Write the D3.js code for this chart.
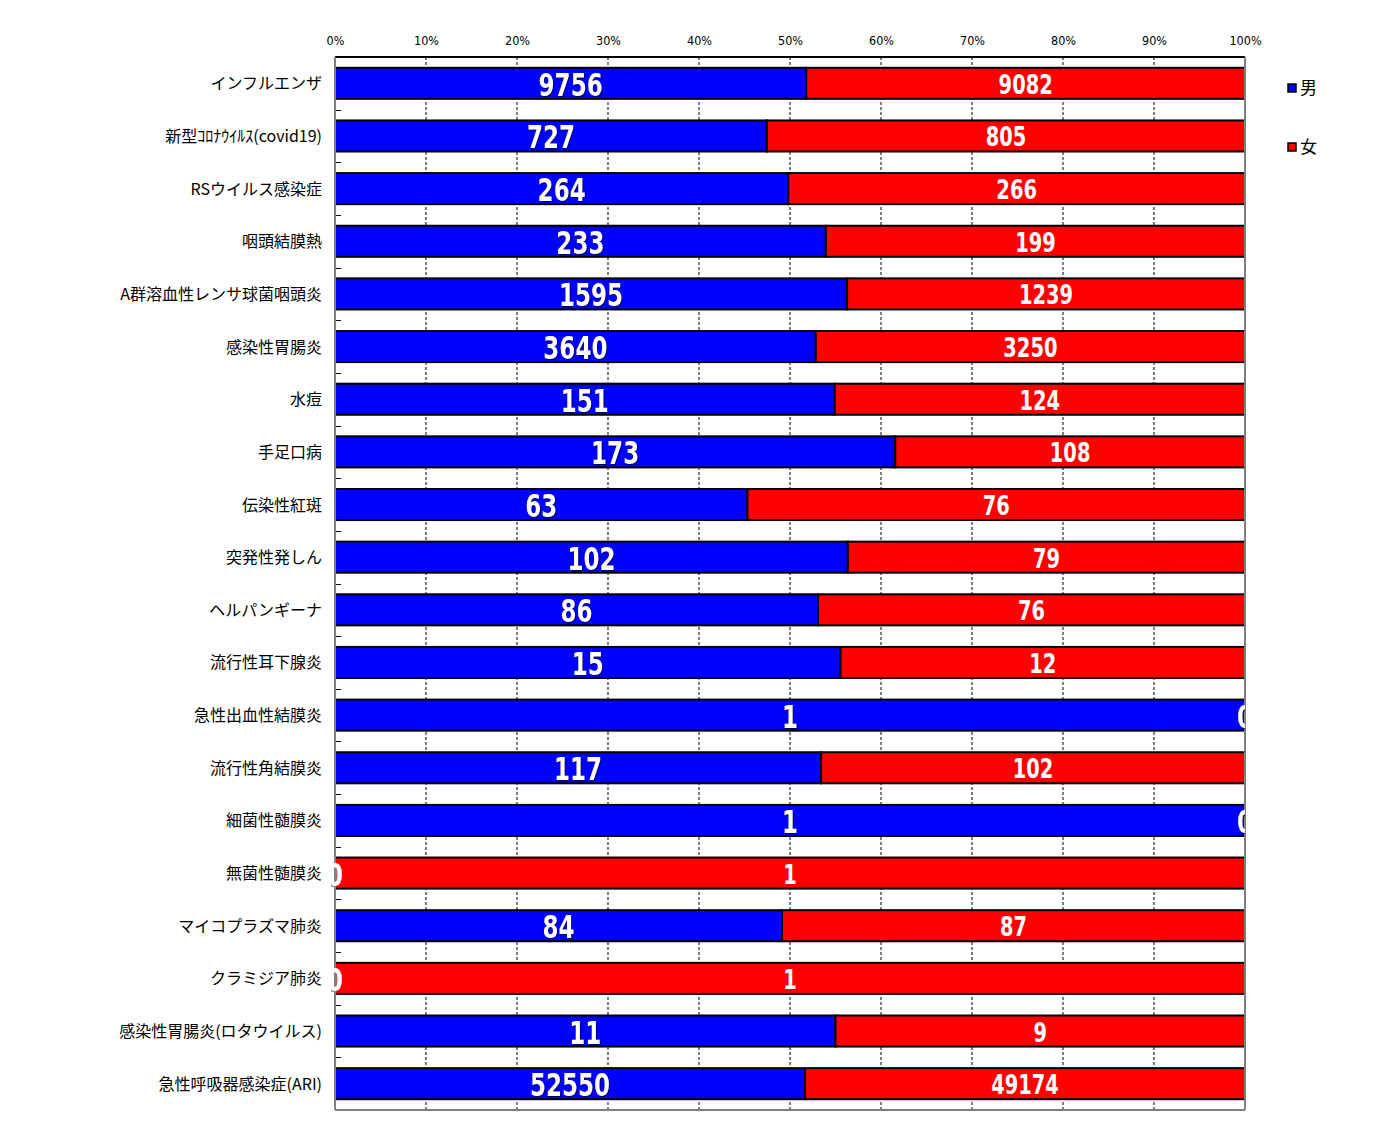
<!DOCTYPE html>
<meta charset="utf-8">
<script src="https://d3js.org/d3.v7.min.js"></script>
<style>
  body { margin: 0; background: #fff; }
  svg { display: block; }
</style>
<div id="chart"></div>
<script>
// categories and counts (男 / 女)
var categories = [
  "インフルエンザ", "新型ｺﾛﾅｳｲﾙｽ(covid19)", "RSウイルス感染症", "咽頭結膜熱",
  "A群溶血性レンサ球菌咽頭炎", "感染性胃腸炎", "水痘", "手足口病", "伝染性紅斑",
  "突発性発しん", "ヘルパンギーナ", "流行性耳下腺炎", "急性出血性結膜炎",
  "流行性角結膜炎", "細菌性髄膜炎", "無菌性髄膜炎", "マイコプラズマ肺炎",
  "クラミジア肺炎", "感染性胃腸炎(ロタウイルス)", "急性呼吸器感染症(ARI)"
];
var male = [9756, 727, 264, 233, 1595, 3640, 151, 173, 63, 102, 86, 15, 1, 117, 1, 0, 84, 0, 11, 52550];
var female = [9082, 805, 266, 199, 1239, 3250, 124, 108, 76, 79, 76, 12, 0, 102, 0, 1, 87, 1, 9, 49174];
var ticks = [0, 0.1, 0.2, 0.3, 0.4, 0.5, 0.6, 0.7, 0.8, 0.9, 1];
var seriesNames = ["男", "女"];
var seriesColors = ["#0000ff", "#ff0000"];

var W = 1380, H = 1145;
var margin = { top: 57, left: 335 };
var width = 910, height = 1053;

var svg = d3.select("#chart").append("svg")
  .attr("width", W).attr("height", H);

var g = svg.append("g")
  .attr("transform", "translate(" + margin.left + "," + margin.top + ")");

var x = d3.scaleLinear().domain([0, 1]).range([0, width]);
var y = d3.scaleBand().domain(categories).range([0, height]).paddingInner(0.41).paddingOuter(0.205);
var yb = d3.scaleBand().domain(categories).range([0, height]);

// top axis labels
var topAxis = g.append("g")
  .call(d3.axisTop(x).tickValues(ticks).tickFormat(d3.format(".0%")).tickSize(0).tickPadding(12));
topAxis.select(".domain").remove();
topAxis.selectAll("text")
  .style("font-family", "'DejaVu Sans Condensed', 'DejaVu Sans', sans-serif")
  .style("font-size", "12.5px")
  .attr("fill", "#000");

// dashed grid
g.append("g").selectAll("line")
  .data(ticks.slice(1, -1))
  .join("line")
  .attr("x1", d => x(d)).attr("x2", d => x(d))
  .attr("y1", 0).attr("y2", height)
  .attr("stroke", "#000").attr("stroke-width", 1)
  .attr("stroke-dasharray", "3,2");

// small ticks at band boundaries
g.append("g").selectAll("line")
  .data(categories.slice(1))
  .join("line")
  .attr("x1", 0).attr("x2", 6)
  .attr("y1", d => Math.round(yb(d)) + 0.5).attr("y2", d => Math.round(yb(d)) + 0.5)
  .attr("stroke", "#000");

// stacked rows
var rows = categories.map(function (c, i) {
  var t = male[i] + female[i];
  return { cat: c, m: male[i], f: female[i], pm: male[i] / t };
});

g.append("clipPath").attr("id", "clip")
  .append("rect").attr("x", -4).attr("y", 0).attr("width", width + 4).attr("height", height);

var bars = g.append("g");
bars.selectAll(".m").data(rows).join("rect")
  .attr("x", 0).attr("y", d => y(d.cat))
  .attr("width", d => x(d.pm)).attr("height", y.bandwidth())
  .attr("fill", seriesColors[0]).attr("stroke", "#000").attr("stroke-width", 2);
bars.selectAll(".f").data(rows).join("rect")
  .attr("x", d => x(d.pm)).attr("y", d => y(d.cat))
  .attr("width", d => x(1) - x(d.pm)).attr("height", y.bandwidth())
  .attr("fill", seriesColors[1]).attr("stroke", "#000").attr("stroke-width", 2);

// frame
g.append("line").attr("x1", 0).attr("x2", width).attr("y1", 0).attr("y2", 0).attr("stroke", "#000").attr("stroke-width", 2);
g.append("line").attr("x1", 0).attr("x2", 0).attr("y1", 0).attr("y2", height).attr("stroke", "#808080").attr("stroke-width", 2);
g.append("line").attr("x1", width).attr("x2", width).attr("y1", 0).attr("y2", height).attr("stroke", "#808080").attr("stroke-width", 2);
g.append("line").attr("x1", 0).attr("x2", width).attr("y1", height).attr("y2", height).attr("stroke", "#808080").attr("stroke-width", 2);

// value labels (condensed horizontally)
var narrow = "'DejaVu Sans Condensed', 'DejaVu Sans', sans-serif";
var labels = g.append("g").attr("clip-path", "url(#clip)");
labels.selectAll(".lm").data(rows).join("text")
  .attr("transform", d => "translate(" + x(d.pm / 2) + "," + (y(d.cat) + y.bandwidth() / 2 + 12.5) + ") scale(0.8,1)")
  .attr("text-anchor", "middle")
  .style("font-family", narrow).style("font-weight", "bold").style("font-size", "32px")
  .style("fill", "#fff")
  .style("filter", d => d.m === 0 ? "drop-shadow(-2px 1px 0px #888)" : "drop-shadow(1px 1px 0px #000060)")
  .text(d => d.m);
labels.selectAll(".lf").data(rows).join("text")
  .attr("transform", d => "translate(" + x((d.pm + 1) / 2) + "," + (y(d.cat) + y.bandwidth() / 2 + (d.f === 0 ? 12.5 : 10.5)) + ") scale(0.8,1)")
  .attr("text-anchor", "middle")
  .style("font-family", narrow).style("font-weight", "bold")
  .style("font-size", d => d.f === 0 ? "32px" : "27px")
  .style("fill", "#fff")
  .style("filter", d => d.f === 0 ? "drop-shadow(1px 1px 0px #000060)" : null)
  .text(d => d.f);

// category labels
g.append("g").selectAll("text").data(categories).join("text")
  .attr("x", -13)
  .attr("y", d => yb(d) + yb.bandwidth() / 2 + 6)
  .attr("text-anchor", "end")
  .style("font-family", "'Noto Sans CJK JP', sans-serif")
  .style("font-size", "16px")
  .style("fill", "#000")
  .text(d => d);

// legend
var legend = svg.append("g").attr("transform", "translate(1288,84)");
seriesNames.forEach(function (n, i) {
  var lg = legend.append("g").attr("transform", "translate(0," + (i * 59) + ")");
  lg.append("rect").attr("x", 0).attr("y", 0).attr("width", 8).attr("height", 8)
    .attr("fill", seriesColors[i]).attr("stroke", "#000").attr("stroke-width", 1.5);
  lg.append("text").attr("x", 12).attr("y", 10)
    .style("font-family", "'Noto Sans CJK JP', sans-serif").style("font-size", "17px")
    .text(n);
});
</script>
